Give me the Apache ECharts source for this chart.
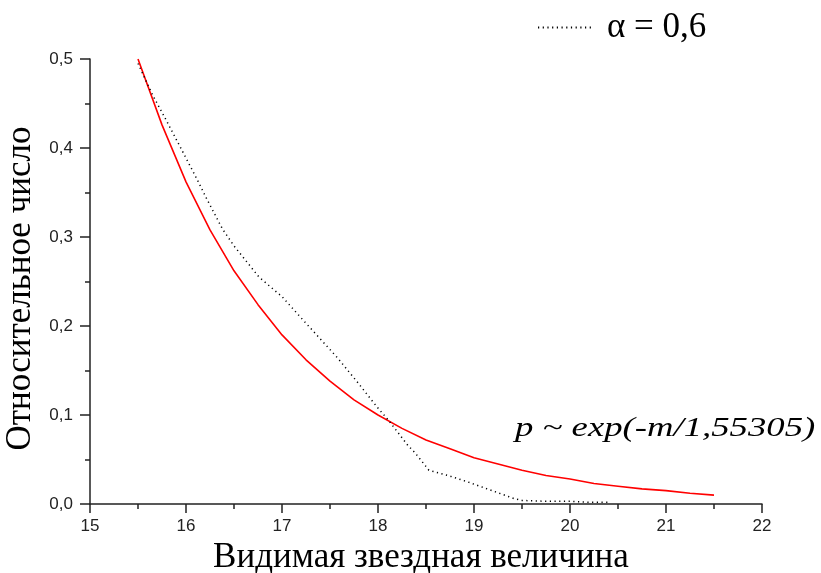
<!DOCTYPE html>
<html><head><meta charset="utf-8">
<script src="https://cdn.jsdelivr.net/npm/echarts@6/dist/echarts.min.js"></script>
<style>html,body{margin:0;padding:0;background:#fff}#c{width:821px;height:573px}</style>
</head><body><div id="c"></div>
<script>
// Fitted curve p ~ exp(-m/1,55305)
const fitM = [15.5,15.75,16,16.25,16.5,16.75,17,17.25,17.5,17.75,18,18.25,18.5,18.75,19,19.25,19.5,19.75,20,20.25,20.5,20.75,21,21.25,21.5];
const fitP = [0.500,0.426,0.362,0.308,0.262,0.224,0.190,0.162,0.138,0.117,0.100,0.085,0.072,0.062,0.052,0.045,0.038,0.032,0.028,0.023,0.020,0.017,0.015,0.012,0.010];
// Observed distribution, alpha = 0,6 (dotted)
const obsM = [15.50,15.65,15.80,15.96,16.10,16.22,16.38,16.50,16.76,17.00,17.20,17.42,17.58,17.80,17.99,18.11,18.31,18.39,18.53,18.76,18.93,19.24,19.42,19.50,19.75,20.00,20.20,20.40];
const obsP = [0.495,0.460,0.430,0.397,0.368,0.342,0.309,0.290,0.255,0.233,0.209,0.183,0.164,0.135,0.109,0.094,0.066,0.057,0.038,0.031,0.025,0.013,0.006,0.004,0.003,0.003,0.002,0.002];
const legendLabel = 'α = 0,6';
const fitLabel = 'p ~ exp(-m/1,55305)';
const xName = 'Видимая звездная величина';
const yName = 'Относительное число';

const chart = echarts.init(document.getElementById('c'), null, {renderer: 'canvas'});
const tickFont = "'Liberation Sans Narrow', 'Liberation Sans', Arial, sans-serif";
const serif = "'Liberation Serif', 'Times New Roman', serif";
const axisCol = '#222';

chart.setOption({
  animation: false,
  backgroundColor: '#fff',
  grid: {left: 90, right: 59, top: 59, bottom: 69, containLabel: false, outerBoundsMode: 'none'},
  legend: {
    data: [legendLabel],
    left: 532, top: 5,
    itemWidth: 54, itemHeight: 10,
    itemStyle: {opacity: 0},
    textStyle: {fontFamily: serif, fontSize: 35, color: '#000', padding: [0,0,0,10]},
    selectedMode: false
  },
  xAxis: {
    type: 'value', min: 15, max: 22, interval: 1,
    name: xName, nameLocation: 'middle', nameGap: 22,
    nameTextStyle: {fontFamily: serif, fontSize: 35, color: '#000', padding: [0, 10, 0, 0]},
    axisLine: {lineStyle: {color: axisCol, width: 1.5}},
    axisTick: {length: 9, lineStyle: {color: axisCol, width: 1.5}},
    minorTick: {show: true, splitNumber: 2, length: 5, lineStyle: {color: axisCol, width: 1.5}},
    splitLine: {show: false},
    axisLabel: {margin: 14, fontFamily: tickFont, fontSize: 17, color: '#222',
      formatter: v => String(v)}
  },
  yAxis: {
    type: 'value', min: 0, max: 0.5, interval: 0.1,
    name: yName, nameLocation: 'middle', nameGap: 45, nameRotate: 90,
    nameTextStyle: {fontFamily: serif, fontSize: 35, color: '#000', padding: [0, 14, 0, 0]},
    axisLine: {show: true, lineStyle: {color: axisCol, width: 1.5}},
    axisTick: {show: true, length: 10, lineStyle: {color: axisCol, width: 1.5}},
    minorTick: {show: true, splitNumber: 2, length: 5, lineStyle: {color: axisCol, width: 1.5}},
    splitLine: {show: false},
    axisLabel: {margin: 17, fontFamily: tickFont, fontSize: 17, color: '#222',
      formatter: v => v.toFixed(1).replace('.', ',')}
  },
  graphic: [{
    type: 'text', x: 515, y: 429, scaleX: 1.36,
    style: {text: fitLabel, font: "italic 27px 'Liberation Serif', 'Times New Roman', serif",
      fill: '#000', textVerticalAlign: 'middle', verticalAlign: 'middle'}
  }],
  series: [{
    name: legendLabel, type: 'line', symbol: 'none', z: 3,
    data: obsM.map((m, i) => [m, obsP[i]]),
    lineStyle: {color: '#000', width: 1.5, type: [1.2, 3.5]}
  }, {
    name: 'fit', type: 'line', symbol: 'none', z: 2,
    data: fitM.map((m, i) => [m, fitP[i]]),
    lineStyle: {color: '#ff0000', width: 1.6}
  }]
});
</script></body></html>
